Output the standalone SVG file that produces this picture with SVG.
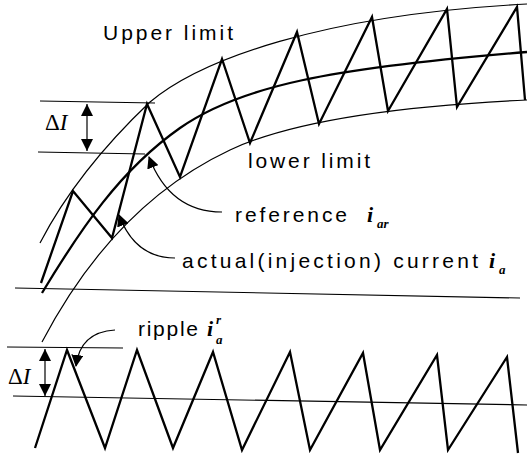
<svg xmlns="http://www.w3.org/2000/svg" width="527" height="455" viewBox="0 0 527 455">
<style>
.thin{fill:none;stroke:#000;stroke-width:1.2}
.thick{fill:none;stroke:#000;stroke-width:2.3;stroke-linejoin:miter}
.lbl{font-family:"Liberation Sans",Arial,sans-serif;font-size:21px;fill:#000}
.sym{font-family:"Liberation Serif","Times New Roman",serif;font-style:italic;font-weight:bold;fill:#000}
.delta{font-family:"Liberation Serif","Times New Roman",serif;font-size:23px;fill:#000}
</style>
<defs>
<marker id="ah" markerWidth="12" markerHeight="12" refX="11" refY="6" orient="auto" markerUnits="userSpaceOnUse"><path d="M0,0 L12,6 L0,12 z" fill="#000"/></marker>
<marker id="dh" markerWidth="13" markerHeight="12" refX="12" refY="6" orient="auto-start-reverse" markerUnits="userSpaceOnUse"><path d="M0,0 L12,6 L0,12 z" fill="#000"/></marker>
</defs>
<g id="connectors">
<path id="upper-limit" class="thin" d="M40,243 C70,185 110,140 150,102 C200,60 320,15 527,4"/>
<path id="lower-limit" class="thin" d="M42,342 C85,260 145,190 230,150 C298,118 420,105 527,100"/>
<path id="reference-curve" class="thick" d="M42,293 C80,230 120,170 180,128 C240,86 330,68 527,52"/>
<polyline id="actual-current" class="thick" points="41,283 73,191 112,238 147,104 180,177 222,59 250,143 297,32 319,124 372,17 388,111 447,9 457,107 517,7 525,100"/>
<line class="thin" x1="40" y1="101" x2="155" y2="103"/>
<line class="thin" x1="38" y1="152" x2="145" y2="154"/>
<line class="thin" x1="15" y1="288" x2="520" y2="298"/>
<line class="thin" x1="7" y1="347" x2="123" y2="348"/>
<line class="thin" x1="13" y1="396" x2="527" y2="405"/>
<polyline id="ripple-wave" class="thick" points="35,448 67,350 105,448 137,350 173,448 213,352 242,450 290,352 310,450 363,353 380,450 437,355 448,450 507,357 518,453"/>
<line class="thin" x1="87" y1="104" x2="87" y2="151" marker-start="url(#dh)" marker-end="url(#dh)"/>
<line class="thin" x1="45" y1="349" x2="45" y2="396" marker-start="url(#dh)" marker-end="url(#dh)"/>
<path class="thin" d="M222,212 Q170,212 149,157" marker-end="url(#ah)"/>
<path class="thin" d="M175,258 Q135,258 119,215" marker-end="url(#ah)"/>
<path class="thin" d="M115,330 Q80,332 76,366" marker-end="url(#ah)"/>
</g>
<g id="label-upper">
<text class="lbl" x="103" y="40" textLength="130" lengthAdjust="spacing">Upper limit</text>
</g>
<g id="label-lower">
<text class="lbl" x="248" y="168" textLength="122" lengthAdjust="spacing">lower limit</text>
</g>
<g id="label-reference">
<text class="lbl" x="235" y="222" textLength="112" lengthAdjust="spacing">reference</text>
<text class="sym" x="367" y="222" font-size="22">i</text>
<text class="sym" x="377" y="228" font-size="13">ar</text>
</g>
<g id="label-actual">
<text class="lbl" x="182" y="268" textLength="296" lengthAdjust="spacing">actual(injection) current</text>
<text class="sym" x="489" y="268" font-size="22">i</text>
<text class="sym" x="499" y="274" font-size="13">a</text>
</g>
<g id="label-ripple">
<text class="lbl" x="138" y="336" textLength="60" lengthAdjust="spacing">ripple</text>
<text class="sym" x="207" y="336" font-size="22">i</text>
<text class="sym" x="216" y="324" font-size="13">r</text>
<text class="sym" x="216" y="344" font-size="13">a</text>
</g>
<g id="delta-upper">
<text class="delta" x="45" y="130">Δ<tspan font-style="italic">I</tspan></text>
</g>
<g id="delta-lower">
<text class="delta" x="8" y="384">Δ<tspan font-style="italic">I</tspan></text>
</g>
</svg>
